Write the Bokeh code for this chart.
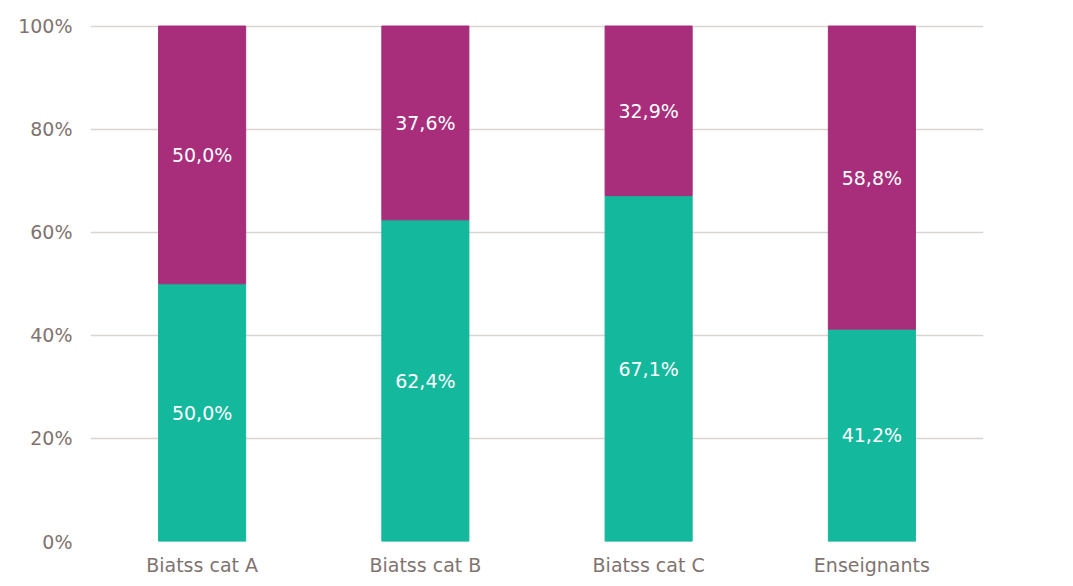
from bokeh.plotting import figure
from bokeh.models import ColumnDataSource, NumeralTickFormatter, FixedTicker, Range1d, FactorRange
from bokeh.core.properties import value
from bokeh.embed import file_html
from bokeh.resources import INLINE

categories = ["Biatss cat A", "Biatss cat B", "Biatss cat C", "Enseignants"]
teal_values = [50.0, 62.4, 67.1, 41.2]
magenta_values = [50.0, 37.6, 32.9, 58.8]
y_ticks = [0, 0.2, 0.4, 0.6, 0.8, 1.0]

TEAL = "#14B89C"
MAGENTA = "#A82D7A"
TEXT = "#7F7370"
GRID = "#D9D5D3"
FONT = "DejaVu Sans"

def fmt(v):
    return f"{v:.1f}%".replace(".", ",")

t = [v / 100 for v in teal_values]
m = [v / 100 for v in magenta_values]
src = ColumnDataSource(dict(
    cat=categories,
    t=t,
    m=m,
    top=[a + b for a, b in zip(t, m)],
    t_mid=[a / 2 for a in t],
    m_mid=[a + b / 2 for a, b in zip(t, m)],
    t_lab=[fmt(v) for v in teal_values],
    m_lab=[fmt(v) for v in magenta_values],
))

p = figure(x_range=FactorRange(*categories, range_padding=0), y_range=Range1d(0, 1.003),
           width=1057, height=578, output_backend="svg", toolbar_location=None,
           min_border_left=90, min_border_right=74, min_border_top=24, min_border_bottom=30)
p.outline_line_color = None

p.vbar(x="cat", bottom=0, top="t", width=0.39, color=TEAL, source=src)
p.vbar(x="cat", bottom="t", top="top", width=0.39, color=MAGENTA, source=src)

p.text(x="cat", y="t_mid", text="t_lab", source=src, text_color="white",
       text_align="center", text_baseline="middle", text_font_size="19px",
       text_font=value(FONT))
p.text(x="cat", y="m_mid", text="m_lab", source=src, text_color="white",
       text_align="center", text_baseline="middle", text_font_size="19px",
       text_font=value(FONT))

p.xgrid.grid_line_color = None
p.ygrid.grid_line_color = GRID
p.ygrid.grid_line_width = 1.5

p.yaxis.ticker = FixedTicker(ticks=y_ticks)
p.yaxis.formatter = NumeralTickFormatter(format="0%")
for ax in (p.xaxis[0], p.yaxis[0]):
    ax.axis_line_color = None
    ax.major_tick_line_color = None
    ax.minor_tick_line_color = None
    ax.major_label_text_color = TEXT
    ax.major_label_text_font = FONT
    ax.major_label_text_font_size = "19px"
p.yaxis.major_label_standoff = 12
p.xaxis.major_label_standoff = 6

open("out.html", "w").write(file_html(p, INLINE))
